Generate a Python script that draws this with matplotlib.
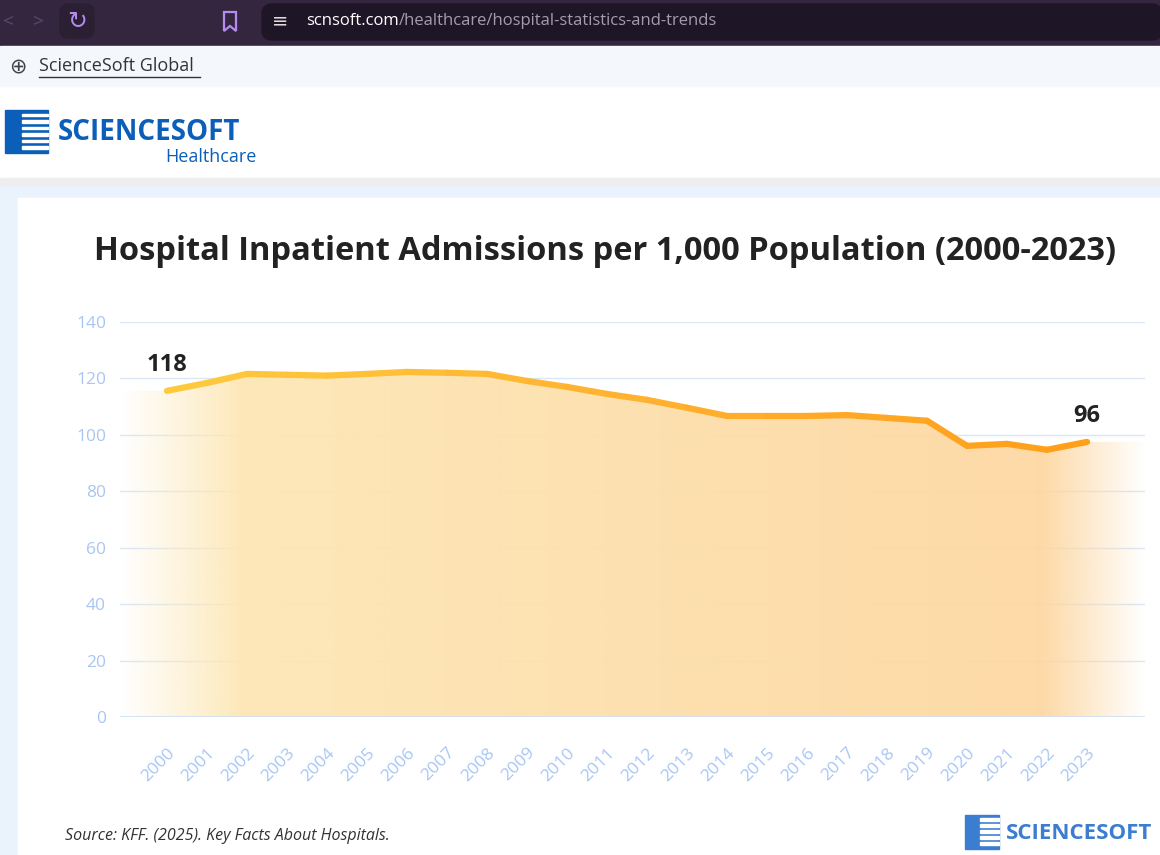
import matplotlib.pyplot as plt
import numpy as np
from matplotlib.colors import LinearSegmentedColormap, to_rgb
from matplotlib.collections import LineCollection
from matplotlib.patches import Rectangle, FancyBboxPatch, Polygon

# Datos
years = list(range(2000, 2024))
admissions = [115.6, 118.4, 121.6, 121.3, 121.0, 121.6, 122.3, 122.0, 121.6, 119.1,
              117.0, 114.5, 112.4, 109.6, 106.7, 106.7, 106.7, 107.0, 106.0, 105.0,
              96.1, 96.8, 94.7, 97.5]
yticks = [0, 20, 40, 60, 80, 100, 120, 140]
first_label = "118"
last_label = "96"

W, H = 1160, 855
fig = plt.figure(figsize=(W / 100, H / 100), dpi=100)
plt.rcParams['font.family'] = ['Open Sans', 'DejaVu Sans']

# Capa de fondo en pixeles
bg = fig.add_axes([0, 0, 1, 1])
bg.set_xlim(0, W)
bg.set_ylim(H, 0)
bg.axis('off')

# Barra del navegador
bg.add_patch(Rectangle((0, 0), W, 46, color='#35263f'))
bg.add_patch(FancyBboxPatch((262, 4), 900, 36, boxstyle='round,pad=0,rounding_size=10', color='#1e1526'))
bg.add_patch(FancyBboxPatch((60, 4), 34, 34, boxstyle='round,pad=0,rounding_size=8', color='#2a1f33'))
bg.text(3, 21, '<', color='#5a4a6a', fontsize=14, va='center')
bg.text(33, 21, '>', color='#5a4a6a', fontsize=14, va='center')
bg.text(77, 21, '\u21bb', color='#b48cf0', fontsize=17, va='center', ha='center', family='DejaVu Sans')
bg.add_patch(Polygon([(224, 12), (236, 12), (236, 31), (230, 26), (224, 31)], closed=True,
                     facecolor='none', edgecolor='#b48cf0', lw=1.6))
bg.text(280, 21, '\u2261', color='#dddddd', fontsize=14, va='center', ha='center', family='DejaVu Sans')
bg.text(306, 21, 'scnsoft.com', color='white', fontsize=12, va='center')
bg.text(399, 21, '/healthcare/hospital-statistics-and-trends', color='#a69cb0', fontsize=12, va='center')

# Barra superior
bg.add_patch(Rectangle((0, 46), W, 40, color='#f4f8fc'))
bg.text(18, 66, '\u2295', color='#444444', fontsize=15, va='center', ha='center', family='DejaVu Sans')
bg.text(39, 66, 'ScienceSoft Global', color='#333333', fontsize=13, va='center')
bg.plot([39, 200], [77, 77], color='#333333', lw=1)

# Logo
bg.add_patch(Rectangle((5, 110), 43, 43, color='#0b5fb8'))
for k in range(6):
    bg.add_patch(Rectangle((22, 114 + k * 6.5), 26, 2.5, color='white'))
bg.text(58, 132, 'SCIENCESOFT', color='#0b5fb8', fontsize=20, weight='bold', va='center')
bg.text(165, 157, 'Healthcare', color='#0b5fb8', fontsize=13, va='center')
bg.add_patch(Rectangle((0, 178), W, 8, color='#eeeeee'))

# Zona del grafico
bg.add_patch(Rectangle((0, 186), W, H - 186, color='#eaf3fc'))
bg.add_patch(Rectangle((18, 198), W - 18, H - 198, color='white'))

bg.text(605, 251, 'Hospital Inpatient Admissions per 1,000 Population (2000-2023)',
        color='#222222', fontsize=23.5, weight='bold', ha='center', va='center')
bg.text(65, 836, 'Source: KFF. (2025). Key Facts About Hospitals.', color='#333333',
        fontsize=11.5, style='italic', va='center')
bg.add_patch(Rectangle((965, 815), 34, 34, color='#3b7dd0'))
for k in range(5):
    bg.add_patch(Rectangle((980, 818 + k * 6), 19, 2.5, color='white'))
bg.text(1006, 833, 'SCIENCESOFT', color='#3b7dd0', fontsize=16, weight='bold', va='center')

# Ejes del grafico
x0, x1 = 120, 1145
y0, y1 = 322, 717
ax = fig.add_axes([x0 / W, 1 - y1 / H, (x1 - x0) / W, (y1 - y0) / H])
ax.patch.set_alpha(0)
xmin = 2000 - 47 / 40
xmax = 2023 + 58 / 40
ax.set_xlim(xmin, xmax)
ax.set_ylim(0, 140)

# Relleno degradado bajo la linea
xs = [xmin] + years + [xmax]
ys = [admissions[0]] + admissions + [admissions[-1]]
poly = Polygon(list(zip(xs, ys)) + [(xmax, 0), (xmin, 0)], closed=True, facecolor='none', edgecolor='none')
ax.add_patch(poly)
n = 600
t = np.linspace(0, 1, n)
c1 = np.array(to_rgb('#fde9b8'))
c2 = np.array(to_rgb('#fdd6a0'))
rgb = c1[None, :] * (1 - t[:, None]) + c2[None, :] * t[:, None]
alpha = np.clip(t / 0.12, 0, 1) * np.clip((1 - t) / 0.1, 0, 1)
alpha = np.minimum(alpha, 1) * 0.95
img = np.concatenate([rgb, alpha[:, None]], axis=1)[None, :, :]
im = ax.imshow(img, extent=[xmin, xmax, 0, 140], aspect='auto', zorder=1)
im.set_clip_path(poly)

# Linea con degradado
pts = np.array([years, admissions]).T.reshape(-1, 1, 2)
segs = np.concatenate([pts[:-1], pts[1:]], axis=1)
cmap = LinearSegmentedColormap.from_list('g', ['#ffc93c', '#ffb230', '#ff9f1a'])
lc = LineCollection(segs, cmap=cmap, linewidth=4.5, capstyle='round', joinstyle='round', zorder=3)
lc.set_array(np.linspace(0, 1, len(segs)))
ax.add_collection(lc)

ax.text(years[0], admissions[0] + 5, first_label, fontsize=17, weight='bold', color='#222222', ha='center', va='bottom')
ax.text(years[-1], admissions[-1] + 5, last_label, fontsize=17, weight='bold', color='#222222', ha='center', va='bottom')

ax.set_yticks(yticks)
ax.set_xticks(years)
ax.set_xticklabels([str(y) for y in years], rotation=45, ha='right', rotation_mode='anchor')
ax.grid(axis='y', color='#dbe7f7', lw=1)
ax.set_axisbelow(True)
for s in ax.spines.values():
    s.set_visible(False)
ax.axhline(0, color='#cfe0f7', lw=1.2)
ax.tick_params(length=0, colors='#a9c6f3', labelsize=12.5)
ax.tick_params(axis='x', pad=20)
ax.tick_params(axis='y', pad=10)
for lab in ax.get_xticklabels():
    lab.set_x(lab.get_position()[0])

fig.savefig('out.png', dpi=100)
